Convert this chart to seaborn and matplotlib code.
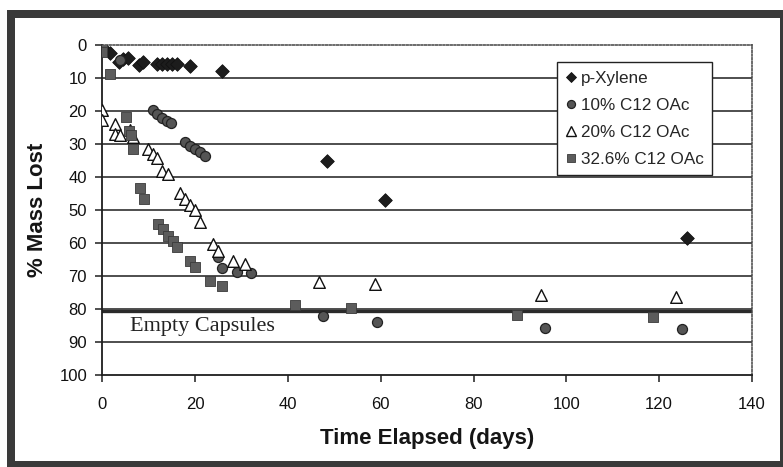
import matplotlib
matplotlib.use("Agg")
import matplotlib.pyplot as plt
from matplotlib.lines import Line2D
from matplotlib.patches import Rectangle
import numpy as np
import pandas as pd
import seaborn as sns

# --- data: time elapsed (days) and % mass lost for each capsule fill ---
xylene_days = [0, 1.7, 3.5, 4.5, 5.5, 8.0, 8.8, 11.7, 12.8, 13.9, 15.0, 16.0, 18.9, 25.7, 48.4, 60.9, 125.9]
xylene_loss = [0.5, 2.5, 5.0, 4.3, 3.8, 6.0, 5.2, 5.7, 5.7, 5.7, 5.7, 5.7, 6.5, 8.0, 35.2, 47.1, 58.4]

c10_days = [0, 3.8, 11.0, 11.7, 12.8, 13.9, 14.9, 17.8, 18.9, 20.0, 21.0, 22.1,
            25.0, 25.9, 29.0, 32.0, 47.5, 59.1, 95.4, 124.9]
c10_loss = [1.0, 4.5, 19.6, 20.9, 22.1, 22.9, 23.7, 29.4, 30.5, 31.5, 32.5, 33.7,
            64.1, 67.5, 68.8, 69.0, 82.0, 83.8, 85.7, 86.0]

c20_days = [0, 0, 2.7, 2.7, 3.8, 5.9, 6.7, 9.9, 11.0, 11.7, 12.8, 14.2, 16.7, 17.8,
            18.9, 20.0, 21.0, 23.9, 25.0, 28.1, 30.7, 46.6, 58.8, 94.5, 123.6]
c20_loss = [19.8, 22.7, 23.9, 27.0, 27.4, 25.9, 27.9, 31.5, 33.0, 34.3, 38.2, 39.0, 44.8, 46.6,
            48.6, 49.9, 53.7, 60.2, 62.3, 65.5, 66.3, 71.7, 72.4, 75.9, 76.4]

c326_days = [0, 0, 1.7, 5.1, 5.8, 6.2, 6.7, 8.1, 9.0, 12.1, 13.0, 14.2, 15.2, 16.2,
             18.9, 20.0, 23.2, 25.9, 41.5, 53.6, 89.4, 118.7]
c326_loss = [0, 2.0, 8.7, 21.7, 26.1, 27.4, 31.5, 43.4, 46.8, 54.2, 55.7, 58.0, 59.4, 61.3,
             65.6, 67.3, 71.4, 72.9, 78.9, 79.6, 81.8, 82.5]

series_names = ["p-Xylene", "10% C12 OAc", "20% C12 OAc", "32.6% C12 OAc"]
empty_capsule_level = 80.5
x_ticks = list(range(0, 141, 20))
y_ticks = list(range(0, 101, 10))

df = pd.concat([
    pd.DataFrame({"days": xylene_days, "loss": xylene_loss, "series": series_names[0]}),
    pd.DataFrame({"days": c10_days, "loss": c10_loss, "series": series_names[1]}),
    pd.DataFrame({"days": c20_days, "loss": c20_loss, "series": series_names[2]}),
    pd.DataFrame({"days": c326_days, "loss": c326_loss, "series": series_names[3]}),
], ignore_index=True)

sns.set_theme(style="white")
plt.rcParams["font.family"] = ["Liberation Sans", "DejaVu Sans"]

W, H = 783, 467
fig = plt.figure(figsize=(W / 100, H / 100), dpi=100)
fig.patch.set_facecolor("white")

# axes placed in pixel terms
l, r, t, b = 102.3, 752, 45, 375
ax = fig.add_axes([l / W, 1 - b / H, (r - l) / W, (b - t) / H])
ax.set_facecolor("white")

# horizontal gridlines
for yv in y_ticks[1:-1]:
    ax.axhline(yv, color="#1e1e1e", lw=1.1, zorder=1)
# empty capsule reference line
ax.axhline(empty_capsule_level, color="#2a2a2a", lw=2.4, zorder=1)

styles = {
    "p-Xylene":      dict(marker="D", s=48, color="#1c1c1c", edgecolor="#111111", linewidth=0.6),
    "10% C12 OAc":   dict(marker="o", s=52, color="#555555", edgecolor="#222222", linewidth=0.9),
    "20% C12 OAc":   dict(marker="^", s=70, color="white", edgecolor="#111111", linewidth=1.0),
    "32.6% C12 OAc": dict(marker="s", s=48, color="#5c5c5c", edgecolor="#3a3a3a", linewidth=0.6),
}
for name in series_names:
    sub = df[df["series"] == name]
    sns.scatterplot(data=sub, x="days", y="loss", ax=ax, legend=False, zorder=3, **styles[name])

ax.set_xlim(0, 140)
ax.set_ylim(100, 0)
ax.set_xticks(x_ticks)
ax.set_yticks(y_ticks)
ax.tick_params(axis="both", direction="out", length=5, width=1.1, color="#1e1e1e",
               labelsize=12, labelcolor="#111111")
ax.tick_params(axis="x", pad=11)
ax.tick_params(axis="y", pad=6)
ax.xaxis.set_ticks_position("bottom")
ax.yaxis.set_ticks_position("left")

for side in ["left", "bottom"]:
    ax.spines[side].set_color("#1e1e1e")
    ax.spines[side].set_linewidth(1.3)
for side in ["top", "right"]:
    ax.spines[side].set_color("#444444")
    ax.spines[side].set_linewidth(1.1)
    ax.spines[side].set_linestyle((0, (1.2, 1.2)))

ax.set_xlabel("Time Elapsed (days)", fontsize=16, fontweight="bold", color="#151515")
ax.set_ylabel("% Mass Lost", fontsize=16, fontweight="bold", color="#151515")
ax.xaxis.set_label_coords(0.5, -0.16)
ax.yaxis.set_label_coords(-0.083, 0.5)

ax.text(6.0, 85.2, "Empty Capsules", family="Liberation Serif", fontsize=16,
        color="#222222", va="center", ha="left", zorder=4)

handles = [
    Line2D([], [], linestyle="none", marker=styles[n]["marker"],
           markersize=np.sqrt(styles[n]["s"]) * 0.8,
           markerfacecolor=styles[n]["color"], markeredgecolor=styles[n]["edgecolor"],
           markeredgewidth=styles[n]["linewidth"])
    for n in series_names
]
leg = ax.legend(handles, series_names, loc="upper left", bbox_to_anchor=(0.70, 0.948),
                fontsize=12.3, frameon=True, fancybox=False, framealpha=1,
                edgecolor="#222222", handlelength=0.6, handletextpad=0.3,
                labelspacing=0.7, borderpad=0.5, borderaxespad=0)
leg.get_frame().set_linewidth(1.0)
leg.set_zorder(5)

# dark outer frame
frame_color = "#3a3a3a"
def band(x0, y0, x1, y1):
    fig.add_artist(Rectangle((x0 / W, 1 - y1 / H), (x1 - x0) / W, (y1 - y0) / H,
                             transform=fig.transFigure, facecolor=frame_color,
                             edgecolor="none", zorder=10))
band(7, 10, 783, 18)
band(7, 10, 15, 467)
band(7, 461, 783, 467)
band(780, 10, 783, 467)

fig.savefig("out.png", dpi=100)
